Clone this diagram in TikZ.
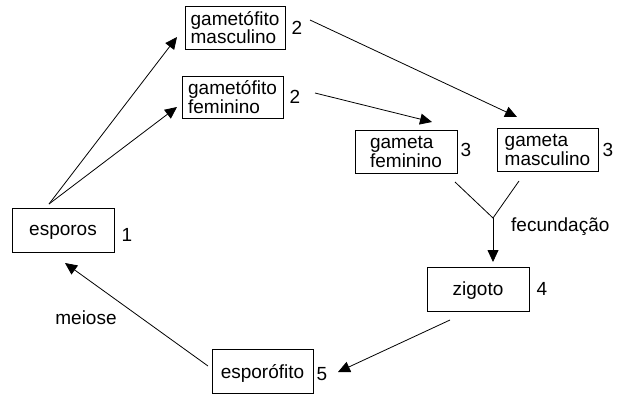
\documentclass[tikz,border=0pt]{standalone}
\usepackage{fontspec}
\setmainfont{Liberation Sans}
\usetikzlibrary{arrows.meta}
\begin{document}
\begin{tikzpicture}[x=1pt,y=-1pt,
  font=\fontsize{19}{17.5}\selectfont,
  box/.style={draw,line width=0.8pt,inner sep=0pt,align=left,text depth=0pt},
  num/.style={inner sep=0pt},
  lab/.style={inner sep=0pt},
  arr/.style={line width=0.8pt,-{Triangle[length=12pt,width=11pt]}},
  ln/.style={line width=0.8pt}]
\useasboundingbox (0,0) rectangle (618,394);
% boxes
\node[box,minimum width=100pt,minimum height=43pt] (gm) at (235,27.5) {gametófito\\masculino};
\node[box,minimum width=101pt,minimum height=42pt] (gf) at (232.5,97) {gametófito\\feminino};
\node[box,minimum width=102pt,minimum height=43pt] (gaf) at (406,151.5) {gameta\\feminino};
\node[box,minimum width=101pt,minimum height=43pt] (gam) at (547.5,149.5) {gameta\\masculino};
\node[box,minimum width=102pt,minimum height=44pt] (esp) at (63,230) {esporos};
\node[box,minimum width=102pt,minimum height=44pt] (zig) at (478,289) {zigoto};
\node[box,minimum width=101pt,minimum height=44pt] (espf) at (262.5,371) {esporófito};
% numbers
\node[num] (n2a) at (297,28) {2};
\node[num] (n2b) at (295,97) {2};
\node[num] (n3a) at (466,150) {3};
\node[num] (n3b) at (608,150) {3};
\node[num] (n1) at (127,235) {1};
\node[num] (n4) at (542,289) {4};
\node[num] (n5) at (322,374) {5};
% labels
\node[lab,anchor=west] (fec) at (511,227) {fecundação};
\node[lab] (mei) at (86,318) {meiose};
% connector points
\coordinate (espTop) at (49,204);
\coordinate (gmTip) at (177,37);
\coordinate (gfTip) at (177,107);
\coordinate (gmOut) at (310,20);
\coordinate (gamTip) at (517,117);
\coordinate (gfOut) at (315,93);
\coordinate (gafTip) at (432,122);
\coordinate (yL) at (455,182);
\coordinate (yR) at (519,181);
\coordinate (yM) at (493,218);
\coordinate (zigTip) at (493,262);
\coordinate (zigOut) at (450,320);
\coordinate (espfTip) at (338,372);
\coordinate (espfOut) at (208,366);
\coordinate (espTip) at (65,263);
% connectors
\draw[arr] (espTop) -- (gmTip);
\draw[arr] (espTop) -- (gfTip);
\draw[arr] (gmOut) -- (gamTip);
\draw[arr] (gfOut) -- (gafTip);
\draw[ln] (yL) -- (yM) -- (yR);
\draw[arr] (yM) -- (zigTip);
\draw[arr] (zigOut) -- (espfTip);
\draw[arr] (espfOut) -- (espTip);
\end{tikzpicture}
\end{document}
